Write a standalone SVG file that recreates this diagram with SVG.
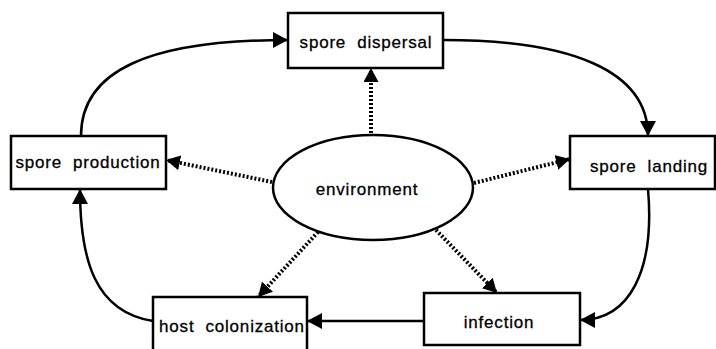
<svg xmlns="http://www.w3.org/2000/svg" width="716" height="349" viewBox="0 0 716 349">
<style>
.box{fill:#fff;stroke:#000;stroke-width:2.5}
.lbl{font-family:"Liberation Sans",Arial,sans-serif;font-size:17px;letter-spacing:0.8px;fill:#000;stroke:#000;stroke-width:0.3;text-anchor:middle;white-space:pre}
.solid{fill:none;stroke:#000;stroke-width:2.5;marker-end:url(#ah)}
.dot{fill:none;stroke:#000;stroke-width:4;stroke-dasharray:2 2;marker-end:url(#ah2)}
</style>
<defs>
<marker id="ah" markerUnits="userSpaceOnUse" markerWidth="16" markerHeight="16" refX="15" refY="8" orient="auto"><path d="M0,0 L15,8 L0,16 z" fill="#000"/></marker>
<marker id="ah2" markerUnits="userSpaceOnUse" markerWidth="15" markerHeight="15" refX="14" refY="7.5" orient="auto"><path d="M0,0 L14,7.5 L0,15 z" fill="#000"/></marker>
</defs>
<g id="connectors">
<path class="solid" d="M81,136 C81,70 150,40 288,40"/>
<path class="solid" d="M443,40 C570,40 648,70 648,136"/>
<path class="solid" d="M648,189 C655,270 630,320 580,320"/>
<path class="solid" d="M424,321 L307,321"/>
<path class="solid" d="M153,321 C95,312 80,260 80,189"/>
<path class="dot" d="M371,133 L371,68"/>
<path class="dot" d="M272,182 L166,160"/>
<path class="dot" d="M474,183 L570,159"/>
<path class="dot" d="M318,232 L258,297"/>
<path class="dot" d="M436,230 L497,293"/>
</g>
<g id="spore-dispersal"><rect class="box" x="288" y="13" width="155" height="55"/><text class="lbl" x="366" y="48">spore  dispersal</text></g>
<g id="spore-production"><rect class="box" x="11" y="136" width="155" height="53"/><text class="lbl" x="88" y="168">spore  production</text></g>
<g id="spore-landing"><rect class="box" x="570" y="136" width="145" height="53"/><text class="lbl" x="649" y="172">spore  landing</text></g>
<g id="host-colonization"><rect class="box" x="153" y="297" width="154" height="60"/><text class="lbl" x="232" y="332">host  colonization</text></g>
<g id="infection"><rect class="box" x="424" y="293" width="156" height="52"/><text class="lbl" x="499" y="328">infection</text></g>
<g id="environment"><ellipse cx="373" cy="187.5" rx="100" ry="52.5" fill="#fff" stroke="#000" stroke-width="2.5"/><text class="lbl" x="367" y="195">environment</text></g>
</svg>
